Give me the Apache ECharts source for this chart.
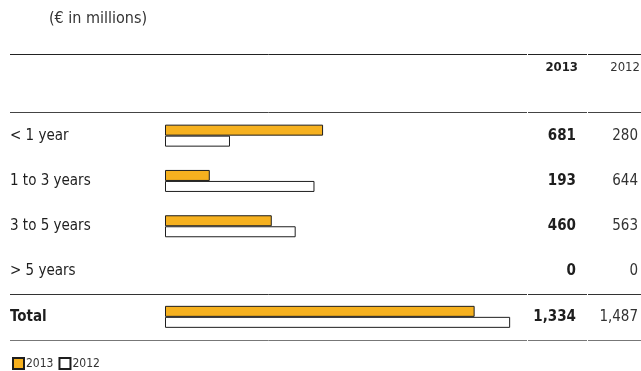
<!DOCTYPE html>
<html>
<head>
<meta charset="utf-8">
<script src="https://cdn.jsdelivr.net/npm/echarts@6/dist/echarts.min.js"></script>
<style>
  html, body { margin: 0; padding: 0; background: #fff; }
  #chart { width: 641px; height: 371px; }
</style>
</head>
<body>
<div id="chart"></div>
<script>
// Maturity buckets and amounts (€ in millions)
const categories = ['< 1 year', '1 to 3 years', '3 to 5 years', '> 5 years', 'Total'];
const years = ['2013', '2012'];
const values2013 = [681, 193, 460, 0, 1334];
const values2012 = [280, 644, 563, 0, 1487];

const FONT = '"DejaVu Sans Condensed", "Liberation Sans Narrow", Roboto, sans-serif';
const ORANGE = '#F6B11F';
const INK = '#1e1e1e';

function fmt(v) { return v.toLocaleString('en-US'); }

// Empty buckets get no outline so nothing is drawn for them
function barData(values) {
  return values.map(v => v === 0 ? { value: v, itemStyle: { borderWidth: 0, opacity: 0 } } : v);
}

const chart = echarts.init(document.getElementById('chart'), null, { renderer: 'canvas' });

// Horizontal rules split into column segments
function rule(y, color) {
  const segs = [[10, 527], [528, 587], [588, 641]];
  return segs.map(s => ({
    type: 'line',
    shape: { x1: s[0], y1: y + 0.5, x2: s[1], y2: y + 0.5 },
    style: { stroke: color, lineWidth: 1 },
    silent: true
  }));
}

chart.setOption({
  animation: false,
  textStyle: { fontFamily: FONT },
  grid: { left: 165, right: 123, top: 113, bottom: 31.5, containLabel: false },
  xAxis: {
    type: 'value', min: 0, max: 1495,
    show: false
  },
  yAxis: [
    {
      type: 'category', data: categories, inverse: true,
      axisLine: { show: false }, axisTick: { show: false }, splitLine: { show: false },
      axisLabel: {
        align: 'left', margin: 155,
        fontSize: 15, color: INK, fontFamily: FONT,
        formatter: (v) => v === 'Total' ? '{b|' + v + '}' : v,
        rich: { b: { fontWeight: 'bold', fontSize: 15, color: INK, fontFamily: FONT } }
      }
    },
    {
      type: 'category', data: categories, inverse: true, position: 'right',
      axisLine: { show: false }, axisTick: { show: false }, splitLine: { show: false },
      axisLabel: {
        align: 'left', margin: 2,
        formatter: (v, i) => '{a|' + fmt(values2013[i]) + '}{b|' + fmt(values2012[i]) + '}',
        rich: {
          a: { width: 62, align: 'right', fontWeight: 'bold', fontSize: 15, color: INK, fontFamily: FONT },
          b: { width: 62, align: 'right', fontSize: 15, color: '#333', fontFamily: FONT }
        }
      }
    }
  ],
  legend: {
    left: 7, top: 352,
    icon: 'rect', itemWidth: 11, itemHeight: 11, itemGap: 5,
    textStyle: { fontSize: 12, color: '#333', fontFamily: FONT, padding: [0, 0, 0, -3] },
    data: years
  },
  series: [
    {
      name: years[0], type: 'bar', data: barData(values2013),
      barWidth: 11, barGap: '0%',
      itemStyle: { color: ORANGE, borderColor: INK, borderWidth: 1 }
    },
    {
      name: years[1], type: 'bar', data: barData(values2012),
      barWidth: 11,
      itemStyle: { color: '#ffffff', borderColor: INK, borderWidth: 1 }
    }
  ],
  graphic: [
    { type: 'text', left: 49, top: 11, style: { text: '(€ in millions)', fontSize: 16, fill: '#333', fontFamily: FONT } },
    { type: 'text', right: 63, top: 61, style: { text: years[0], fontSize: 13, fontWeight: 'bold', fill: INK, fontFamily: FONT } },
    { type: 'text', right: 1, top: 61, style: { text: years[1], fontSize: 13, fill: '#333', fontFamily: FONT } }
  ]
    .concat(rule(54, '#222'))
    .concat(rule(112, '#444'))
    .concat(rule(294, '#333'))
    .concat(rule(340, '#777'))
});
</script>
</body>
</html>
